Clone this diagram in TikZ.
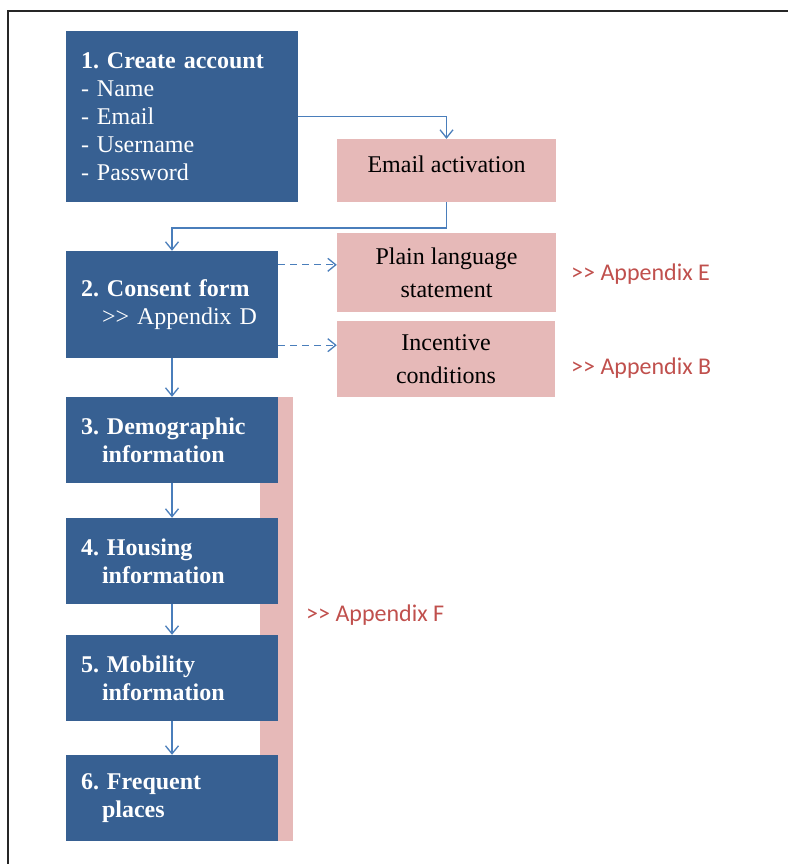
\documentclass[tikz,border=0pt]{standalone}
\usepackage{fontspec}
\setmainfont{Liberation Serif}
\newfontfamily\appfont{Carlito}
\usetikzlibrary{arrows.meta,calc}
\definecolor{boxblue}{HTML}{376092}
\definecolor{boxpink}{HTML}{E6B9B8}
\definecolor{linkblue}{HTML}{4A7EBB}
\definecolor{appred}{HTML}{C0504D}
\frenchspacing
\tikzset{
  bluebox/.style={fill=boxblue, draw=none, text=white, align=left, anchor=center,
    inner xsep=15pt, inner ysep=0pt, font=\frenchspacing\fontsize{24pt}{28pt}\selectfont},
  pinkbox/.style={fill=boxpink, draw=none, text=black, align=center, anchor=center,
    inner sep=0pt, font=\fontsize{24pt}{33pt}\selectfont},
  apptext/.style={text=appred, anchor=west, inner sep=0pt, font=\appfont\fontsize{24pt}{28pt}\selectfont},
  arr/.style={draw=linkblue, line width=1.3pt, -{Straight Barb[length=8pt,width=13pt,line width=1.3pt]}},
  darr/.style={arr, dashed, dash pattern=on 7pt off 5pt},
}
\begin{document}
\begin{tikzpicture}[x=1pt,y=-1pt]
\useasboundingbox (0,0) rectangle (788,864);
% frame
\draw[line width=1.6pt, black!85] (8,864) -- (8,11) -- (788,11);
% pink bar
\fill[boxpink] (260,397) rectangle (293,841);
% blue boxes
\node[bluebox, minimum width=232pt, minimum height=171pt, text width=202pt] (b1) at (182,116.5)
  {\textbf{1. Create account}\\- Name\\- Email\\- Username\\- Password};
\node[bluebox, minimum width=212pt, minimum height=107pt, text width=182pt] (b2) at (172,304.5)
  {\textbf{2. Consent form}\\\hspace*{21pt}>{}> Appendix D};
\node[bluebox, minimum width=212pt, minimum height=86pt, text width=182pt] (b3) at (172,440)
  {\textbf{3. Demographic}\\\hspace*{21pt}\textbf{information}};
\node[bluebox, minimum width=212pt, minimum height=86pt, text width=182pt] (b4) at (172,561)
  {\textbf{4. Housing}\\\hspace*{21pt}\textbf{information}};
\node[bluebox, minimum width=212pt, minimum height=86pt, text width=182pt] (b5) at (172,678)
  {\textbf{5. Mobility}\\\hspace*{21pt}\textbf{information}};
\node[bluebox, minimum width=212pt, minimum height=86pt, text width=182pt] (b6) at (172,798)
  {\textbf{6. Frequent}\\\hspace*{21pt}\textbf{places}};
% pink boxes
\node[pinkbox, minimum width=219pt, minimum height=63pt] (email) at (446.5,170.5) {\raisebox{12pt}{Email activation}};
\node[pinkbox, minimum width=219pt, minimum height=79pt] (plain) at (446.5,272.5) {Plain language\\statement};
\node[pinkbox, minimum width=218pt, minimum height=76pt] (inc) at (446,359) {\raisebox{-1pt}{Incentive}\\\raisebox{-1pt}{conditions}};
% appendix labels
\node[apptext] (appE) at (571,274) {>{}> Appendix E};
\node[apptext] (appB) at (571,368) {>{}> Appendix B};
\node[apptext] (appF) at (306,615) {>{}> Appendix F};
% connectors
\draw[arr] (b1.east) -| (email.north);
\coordinate (bend2) at (172,228);
\draw[arr] (email.south) |- (bend2) -- (b2.north);
\coordinate (d1) at ([yshift=-14pt]b2.north east);
\draw[darr] (d1) -- (d1 -| plain.west);
\coordinate (d2) at ([yshift=13pt]b2.south east);
\draw[darr] (d2) -- (d2 -| inc.west);
\draw[arr] (b2.south) -- (b3.north);
\draw[arr] (b3.south) -- (b4.north);
\draw[arr] (b4.south) -- (b5.north);
\draw[arr] (b5.south) -- (b6.north);
\end{tikzpicture}
\end{document}
